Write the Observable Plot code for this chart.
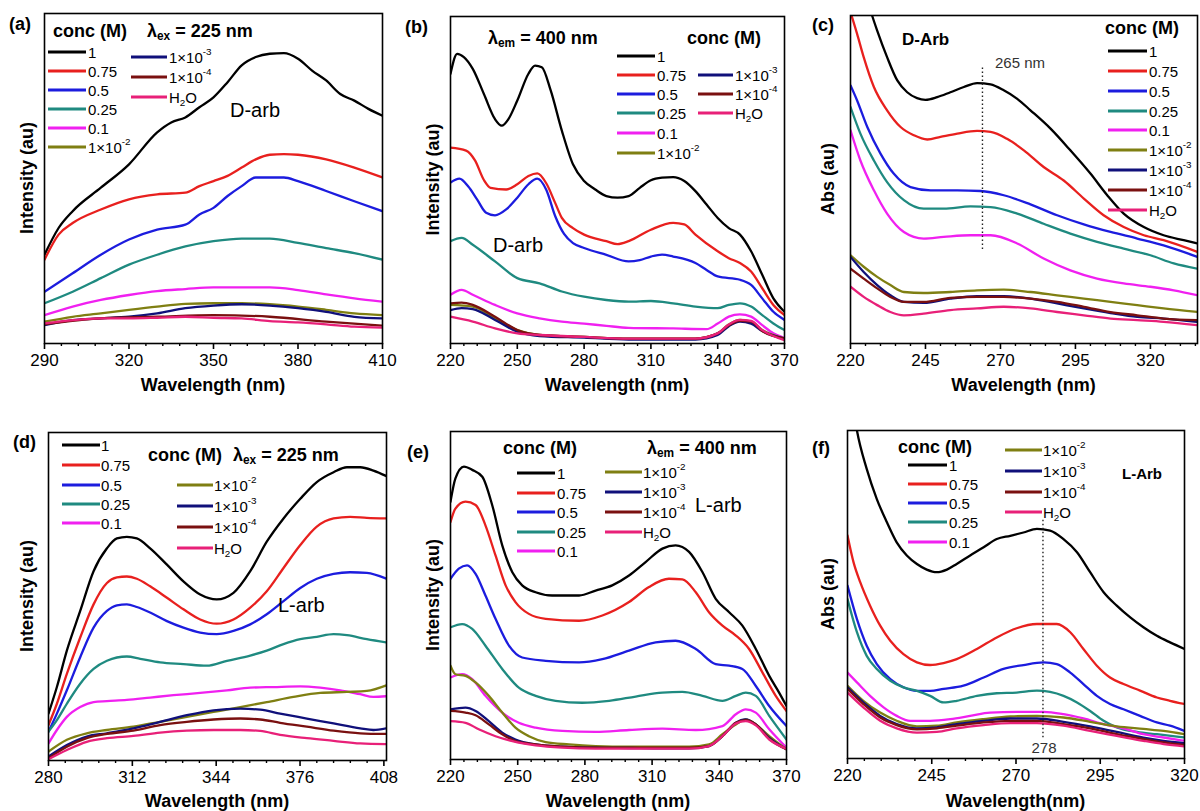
<!DOCTYPE html>
<html>
<head>
<meta charset="utf-8">
<script src="https://cdn.jsdelivr.net/npm/d3@7"></script>
<script src="https://cdn.jsdelivr.net/npm/@observablehq/plot@0.6"></script>
<style>
  body { margin: 0; background: #fff; }
  #root { position: relative; width: 1200px; height: 811px; overflow: hidden; font-family: Arial, "Liberation Sans", sans-serif; }
  .panel { position: absolute; }
  .panel svg { overflow: visible; }
</style>
</head>
<body>
<div id="root"></div>
<script>
// ---------- series labels & colours ----------
const concLabels = ["1", "0.75", "0.5", "0.25", "0.1", "1×10^-2", "1×10^-3", "1×10^-4", "H_2O"];
const seriesColors = ["#000000", "#e8201e", "#1c1cde", "#1f8a80", "#f020f0", "#7f7f12", "#10107a", "#7a1010", "#e82078"];

// ---------- panel (a): emission, D-arb, λex = 225 nm ----------
const a_1 = [[290,26.9],[295,35.0],[300,40.1],[310,47.2],[320,54.3],[330,64.0],[335,67.0],[340,68.5],[345,71.6],[350,74.6],[355,79.2],[360,84.3],[365,86.8],[370,87.8],[375,88.0],[380,86.3],[385,82.7],[390,79.7],[395,75.6],[400,73.6],[405,71.1],[410,69.0]];
const a_075 = [[290,25.4],[295,33.0],[300,36.5],[310,40.6],[320,43.7],[330,45.2],[340,45.7],[345,47.7],[350,49.2],[355,50.8],[360,53.3],[365,55.8],[370,57.2],[375,57.4],[380,57.2],[390,55.8],[400,53.3],[410,50.3]];
const a_05 = [[290,15.7],[300,21.3],[310,26.9],[320,31.5],[330,34.5],[340,36.0],[345,39.1],[350,41.1],[355,44.7],[360,47.7],[365,50.3],[370,50.3],[375,50.3],[380,49.2],[390,46.2],[400,43.1],[410,40.1]];
const a_025 = [[290,12.2],[300,15.7],[310,19.8],[320,23.9],[330,26.9],[340,29.4],[350,31.0],[360,31.8],[370,31.8],[380,30.5],[390,28.9],[400,27.4],[410,25.4]];
const a_01 = [[290,8.6],[300,11.2],[310,13.2],[320,14.7],[330,15.9],[340,16.5],[350,17.0],[360,17.0],[370,17.0],[380,16.2],[390,14.9],[400,13.7],[410,12.7]];
const a_1e2 = [[290,6.6],[300,8.1],[310,9.1],[320,10.2],[330,11.2],[340,12.0],[350,12.2],[360,12.2],[370,11.9],[380,11.2],[390,10.2],[400,9.1],[410,8.6]];
const a_1e3 = [[290,5.6],[300,7.1],[310,7.6],[320,8.1],[330,9.1],[340,10.7],[350,11.5],[360,11.9],[370,11.5],[380,10.7],[390,9.6],[400,8.1],[410,7.6]];
const a_1e4 = [[290,5.8],[310,7.6],[330,8.1],[350,8.6],[370,8.1],[390,6.6],[410,5.4]];
const a_h2o = [[290,6.1],[300,7.1],[310,7.6],[320,7.6],[330,7.8],[340,8.1],[350,7.8],[360,7.6],[370,6.8],[380,6.4],[390,5.8],[400,5.1],[410,4.8]];

// ---------- panel (b): excitation, D-arb, λem = 400 nm ----------
const b_1 = [[220,82.5],[223,88.6],[226,87.6],[230,84.0],[235,76.3],[240,68.6],[243,66.6],[246,68.6],[250,74.3],[255,82.5],[258,85.0],[261,84.5],[265,77.4],[270,65.1],[275,54.8],[280,49.7],[285,47.1],[290,45.1],[295,44.6],[300,45.1],[305,47.6],[310,49.9],[315,50.7],[320,50.9],[325,49.7],[330,46.6],[335,42.5],[340,38.4],[345,35.3],[350,33.3],[355,28.2],[360,21.0],[365,13.8],[370,9.7]];
const b_075 = [[220,59.9],[227,59.0],[231,56.0],[235,50.0],[238,47.6],[245,47.1],[250,48.7],[255,51.2],[259,52.0],[263,49.0],[267,43.0],[270,38.4],[275,35.3],[280,33.3],[290,31.3],[295,30.4],[300,31.3],[310,34.8],[320,36.9],[325,36.4],[330,33.3],[340,28.2],[345,26.1],[350,24.6],[355,22.0],[360,16.9],[365,11.8],[370,8.7]];
const b_05 = [[220,49.2],[224,50.4],[228,48.0],[232,44.0],[236,40.0],[240,39.2],[245,41.0],[250,44.6],[255,48.7],[259,50.4],[263,47.0],[267,39.0],[271,33.5],[275,30.7],[280,29.2],[290,27.1],[300,25.1],[305,25.5],[310,26.6],[315,27.2],[320,26.6],[330,24.6],[335,22.5],[340,20.5],[350,19.5],[355,17.9],[360,13.8],[365,9.7],[370,7.2]];
const b_025 = [[220,31.3],[225,32.3],[230,30.2],[240,25.1],[250,20.0],[260,18.4],[270,15.9],[280,14.3],[290,13.3],[300,12.8],[310,13.0],[320,12.3],[330,11.3],[340,10.8],[345,11.8],[350,12.3],[355,11.3],[360,8.7],[365,6.1],[370,4.1]];
const b_01 = [[220,14.9],[225,16.4],[230,14.9],[240,11.8],[250,9.2],[260,7.7],[270,6.7],[280,6.1],[290,5.4],[300,4.8],[320,4.6],[335,4.4],[340,6.1],[345,8.2],[350,8.9],[355,8.2],[360,5.6],[365,3.1],[370,1.7]];
const b_1e2 = [[220,11.8],[230,11.3],[240,7.7],[250,4.1],[260,2.6],[280,2.0],[300,1.5],[330,1.5],[340,3.1],[345,5.8],[350,7.2],[355,6.7],[360,4.1],[370,1.5]];
const b_1e3 = [[220,10.2],[225,10.8],[230,10.5],[240,7.2],[250,3.6],[260,2.3],[280,1.8],[300,1.2],[330,1.2],[340,2.6],[345,5.3],[350,6.7],[355,6.1],[360,3.8],[370,1.5]];
const b_1e4 = [[220,12.3],[225,12.5],[230,11.8],[240,8.2],[250,4.1],[260,2.6],[280,2.0],[300,1.5],[330,1.5],[340,3.1],[345,5.6],[350,6.9],[355,6.7],[360,3.8],[370,1.5]];
const b_h2o = [[220,8.2],[230,6.7],[240,4.6],[250,3.1],[260,2.6],[280,2.0],[300,1.5],[330,1.5],[340,3.1],[345,5.8],[350,7.2],[355,6.9],[360,4.1],[370,1.0]];

// ---------- panel (c): absorbance, D-Arb ----------
const c_1 = [[220,125],[223.5,112],[227.2,100],[228.9,95.4],[232.2,87.3],[235.6,80.2],[238.9,76.6],[242.2,74.8],[245,74.3],[248.9,75.1],[253.3,76.6],[257.8,78.2],[262.2,79.4],[266.7,79.0],[271.1,77.2],[275.6,74.6],[280,71.1],[286.7,65.5],[293.3,58.9],[300,51.8],[305.6,45.2],[311.1,39.6],[317.8,35.5],[324.4,33.0],[331.1,31.5],[335.7,30.5]];
const c_075 = [[220,101],[222.2,94.4],[224.4,87.3],[227.8,78.2],[232.2,71.1],[236.7,66.0],[241.1,63.5],[245.6,62.2],[250,63.0],[255.6,64.0],[262.2,64.8],[266.7,64.5],[272.2,62.4],[277.8,58.9],[284.4,53.8],[291.1,49.7],[297.8,44.2],[304.4,39.1],[311.1,35.5],[317.8,33.0],[324.4,31.5],[335.7,27.9]];
const c_05 = [[220,78.7],[222.2,74.1],[225.6,66.0],[230,57.9],[234.4,51.8],[240,47.7],[246.7,46.7],[255.6,46.7],[263.3,46.5],[271.1,45.2],[280,42.4],[288.9,39.1],[297.8,36.3],[306.7,34.0],[315.6,32.0],[324.4,29.9],[335.7,26.4]];
const c_025 = [[220,72.1],[223.3,64.0],[227.8,55.8],[232.2,49.2],[237.8,43.7],[244.4,41.1],[251.1,41.1],[260,41.8],[266.7,41.6],[275.6,39.6],[284.4,36.5],[293.3,33.5],[302.2,31.0],[311.1,28.9],[320,26.9],[327.8,24.4],[335.7,22.8]];
const c_01 = [[220,65.0],[223.3,55.8],[227.8,46.7],[232.2,39.6],[237.8,34.0],[244.4,32.0],[251.1,32.5],[260,33.0],[266.7,33.0],[275.6,30.5],[284.4,25.9],[293.3,22.3],[302.2,19.8],[311.1,18.3],[320,17.3],[327.8,16.2],[335.7,14.7]];
const c_1e2 = [[220,26.9],[224.4,23.4],[228.9,20.3],[233.3,17.8],[237.8,15.7],[244.4,15.4],[253.3,15.7],[262.2,16.2],[271.1,16.4],[280,15.7],[288.9,14.7],[297.8,13.7],[306.7,12.7],[315.6,11.7],[324.4,10.7],[335.7,9.6]];
const c_1e3 = [[220,26.4],[224.4,21.8],[228.9,17.8],[233.3,14.7],[237.8,12.7],[244.4,12.4],[253.3,13.7],[262.2,14.4],[271.1,14.4],[280,13.7],[288.9,12.2],[297.8,10.7],[306.7,9.3],[315.6,8.1],[324.4,7.6],[335.7,6.6]];
const c_1e4 = [[220,22.8],[224.4,19.8],[228.9,16.8],[233.3,14.2],[237.8,12.7],[244.4,12.7],[253.3,13.9],[262.2,14.2],[271.1,14.2],[280,13.7],[288.9,12.7],[297.8,11.2],[306.7,9.6],[315.6,8.6],[324.4,7.6],[335.7,7.1]];
const c_h2o = [[220,17.3],[224.4,14.2],[228.9,11.7],[233.3,9.6],[237.8,8.6],[244.4,9.1],[253.3,10.2],[262.2,10.7],[271.1,11.2],[280,10.7],[288.9,9.6],[297.8,8.6],[306.7,7.6],[315.6,7.1],[324.4,6.6],[335.7,5.6]];

// ---------- panel (d): emission, L-arb, λex = 225 nm ----------
const d_1 = [[280,14.3],[283.2,22.4],[287,33.5],[292.1,45.6],[297.2,57.7],[302.3,64.7],[306.1,67.7],[309.9,68.2],[313.7,67.7],[318.8,64.7],[325.2,59.7],[331.5,54.6],[337.9,50.6],[344.2,49.1],[350.6,51.1],[357,57.7],[363.3,66.7],[369.7,73.8],[376.1,79.8],[382.4,84.9],[388.8,87.9],[393.9,89.4],[399,89.4],[404,88.4],[409,86.7]];
const d_075 = [[280,10.8],[283.2,17.3],[287,26.4],[292.1,37.5],[297.2,47.6],[302.3,54.1],[306.1,55.8],[309.9,56.1],[313.7,55.4],[318.8,53.1],[325.2,49.6],[331.5,46.1],[337.9,43.0],[344.2,41.7],[350.6,43.0],[357,46.6],[363.3,51.6],[369.7,58.7],[376.1,65.7],[382.4,71.3],[388.8,73.8],[395.1,74.3],[401.5,74.0],[409,73.8]];
const d_05 = [[280,8.8],[283.2,14.3],[287,21.4],[292.1,31.5],[297.2,40.5],[302.3,45.6],[306.1,47.3],[309.9,47.6],[313.7,46.8],[318.8,45.1],[325.2,42.5],[331.5,40.5],[337.9,39.0],[344.2,38.5],[350.6,39.5],[357,41.5],[363.3,44.6],[369.7,48.6],[376.1,52.6],[382.4,55.4],[388.8,56.9],[395.1,57.4],[401.5,57.2],[409,55.4]];
const d_025 = [[280,8.8],[283.2,12.3],[287,17.3],[292.1,23.4],[297.2,27.9],[302.3,30.4],[309.9,31.7],[315,31.0],[322.6,29.9],[331.5,29.4],[340.4,28.9],[348.1,30.4],[357,32.0],[363.3,33.5],[369.7,35.5],[376.1,37.0],[382.4,37.7],[388.8,38.5],[393.9,38.2],[401.5,37.0],[409,36.0]];
const d_01 = [[280,5.2],[283.2,9.3],[287,13.3],[292.1,16.3],[297.2,17.8],[302.3,18.1],[309.9,18.5],[318.8,19.2],[327.7,19.9],[337.9,20.6],[348.1,21.4],[357,22.2],[365.9,22.4],[376.1,22.6],[383.7,22.2],[391.3,21.4],[399,20.2],[404,19.4],[409,19.6]];
const d_1e2 = [[280,2.7],[287,6.3],[294.6,8.3],[302.3,9.3],[312.4,10.3],[322.6,11.8],[332.8,13.3],[343,14.8],[353.2,16.3],[363.3,17.8],[373.5,19.4],[383.7,20.6],[393.9,20.9],[401.5,21.2],[409,22.9]];
const d_1e3 = [[280,1.2],[287,4.7],[294.6,7.3],[302.3,8.3],[312.4,9.8],[322.6,11.8],[332.8,13.8],[343,15.3],[353.2,15.8],[360.8,15.5],[368.4,14.3],[378.6,12.8],[388.8,11.3],[399,9.8],[404,9.3],[409,9.8]];
const d_1e4 = [[280,0.7],[287,4.2],[294.6,6.8],[302.3,8.1],[312.4,9.1],[322.6,10.8],[332.8,11.8],[343,12.5],[353.2,12.8],[360.8,12.5],[368.4,11.5],[378.6,10.3],[388.8,9.1],[399,8.3],[409,8.1]];
const d_h2o = [[280,0.4],[287,3.2],[294.6,5.7],[302.3,6.8],[312.4,7.5],[322.6,8.5],[332.8,9.1],[343,9.3],[353.2,9.3],[360.8,9.0],[368.4,7.8],[378.6,6.8],[388.8,6.0],[399,5.2],[409,5.0]];

// ---------- panel (e): excitation, L-arb, λem = 400 nm ----------
const e_1 = [[220,78.6],[222.2,85.7],[226,89.3],[229.7,88.3],[234.2,86.2],[238.6,77.6],[243.1,65.3],[247.6,57.1],[252,53.1],[258,51.0],[265.4,50.0],[277.4,50.0],[284.8,51.5],[292.2,53.1],[299.7,56.1],[307.1,60.2],[314.6,64.3],[320.5,65.3],[326.5,63.3],[332.5,57.1],[338.4,49.0],[344.4,44.9],[350.3,40.8],[356.3,33.7],[362.3,25.5],[366.7,20.4],[370,16.3]];
const e_075 = [[220,72.4],[222.2,76.5],[226.7,78.6],[231.2,77.6],[235.6,71.4],[240.1,62.2],[244.6,53.1],[249,48.0],[255,44.4],[262.5,42.9],[277.4,42.3],[287.8,43.9],[299.7,48.0],[308.6,52.6],[317.5,55.1],[323.5,54.9],[329.5,51.0],[335.4,44.9],[341.4,40.8],[347.4,37.8],[353.3,33.7],[359.3,26.5],[365.2,19.4],[370,14.8]];
const e_05 = [[220,55.1],[223.7,58.2],[227.4,59.2],[231.2,56.6],[235.6,50.0],[240.1,42.9],[246.1,34.7],[252,31.1],[262.5,30.1],[277.4,29.6],[287.8,30.6],[299.7,33.2],[311.6,35.7],[320.5,36.2],[329.5,33.7],[338.4,29.1],[344.4,28.6],[350.3,27.6],[356.3,22.4],[362.3,16.3],[370,10.2]];
const e_025 = [[220,40.3],[225.2,41.3],[229.7,39.8],[235.6,34.7],[243.1,27.6],[250.5,21.9],[258,19.4],[266.9,17.9],[278.8,17.3],[290.8,17.9],[302.7,19.2],[314.6,20.4],[323.5,20.6],[332.5,19.4],[341.4,17.9],[347.4,19.4],[351.8,20.4],[356.3,19.4],[362.3,13.3],[370,6.1]];
const e_01 = [[220,25.0],[225.2,26.0],[229.7,24.5],[235.6,19.4],[243.1,14.3],[250.5,11.2],[258,9.7],[269.9,8.7],[284.8,8.4],[299.7,9.0],[314.6,9.4],[329.5,9.0],[341.4,10.2],[347.4,13.8],[351.8,15.3],[356.3,14.3],[362.3,9.2],[370,3.6]];
const e_1e2 = [[220,28.6],[222.2,26.0],[226.7,25.5],[231.2,23.5],[237.1,19.4],[243.1,14.3],[249,9.7],[255,7.1],[262.5,5.3],[272.9,4.6],[284.8,4.1],[299.7,3.9],[314.6,3.9],[326.5,3.9],[335.4,4.6],[341.4,7.7],[347.4,10.7],[351.8,12.2],[356.3,10.7],[362.3,7.1],[370,3.1]];
const e_1e3 = [[220,15.3],[226.7,15.8],[231.2,14.8],[237.1,11.7],[243.1,8.2],[249,6.1],[258,4.6],[269.9,3.9],[284.8,3.6],[299.7,3.5],[314.6,3.4],[326.5,3.4],[335.4,4.1],[341.4,7.1],[347.4,11.2],[351.8,12.2],[356.3,10.7],[362.3,6.6],[370,3.1]];
const e_1e4 = [[220,14.8],[226.7,14.3],[231.2,13.5],[237.1,10.7],[243.1,7.7],[249,5.6],[258,4.6],[269.9,3.9],[284.8,3.6],[299.7,3.6],[314.6,3.6],[326.5,3.6],[335.4,4.1],[341.4,7.1],[347.4,11.2],[351.8,12.0],[356.3,10.7],[362.3,6.3],[370,3.1]];
const e_h2o = [[220,11.7],[226.7,11.2],[232.6,9.2],[240.1,7.1],[247.6,5.6],[258,4.3],[269.9,3.6],[284.8,3.3],[299.7,3.3],[314.6,3.3],[326.5,3.3],[335.4,4.1],[341.4,7.1],[347.4,11.0],[351.8,11.7],[356.3,10.4],[362.3,6.1],[370,3.3]];

// ---------- panel (f): absorbance, L-Arb ----------
const f_1 = [[220,120],[222.8,100],[225.7,88.3],[228.7,79.1],[231.7,72.0],[234.6,65.9],[237.6,61.9],[240.6,59.3],[243.5,57.6],[246.5,56.8],[249.5,57.6],[252.4,59.3],[256.4,61.9],[260.4,64.4],[264.3,66.9],[268.3,67.9],[272.2,68.9],[276.2,70.0],[280.1,69.5],[284.1,66.9],[288.1,62.9],[292,56.8],[296,50.7],[299.9,46.6],[303.9,43.0],[307.8,40.0],[311.8,37.4],[315.7,35.4],[320,33.4]];
const f_075 = [[220,68.0],[221.8,59.8],[223.8,53.7],[226.7,46.6],[229.7,40.5],[232.7,35.9],[236.6,31.8],[240.6,29.3],[244.5,28.5],[248.5,29.1],[252.4,30.3],[258.4,33.4],[264.3,36.9],[270.2,39.7],[276.2,41.0],[282.1,41.0],[286.1,38.5],[290,33.4],[294,28.3],[297.9,24.7],[301.9,22.7],[306.8,20.7],[311.8,18.6],[315.7,17.6],[320,16.6]];
const f_05 = [[220,52.7],[222.8,42.5],[225.7,34.4],[228.7,28.8],[232.7,24.2],[236.6,21.7],[240.6,20.6],[244.5,20.6],[248.5,21.2],[254.4,22.2],[260.4,24.7],[266.3,27.3],[272.2,28.5],[278.2,29.3],[282.1,28.8],[286.1,26.2],[290,22.7],[294,19.1],[297.9,16.6],[301.9,15.0],[306.8,13.0],[311.8,11.0],[315.7,10.0],[320,8.4]];
const f_025 = [[220,48.6],[222.8,38.5],[225.7,31.3],[228.7,27.3],[232.7,23.7],[236.6,21.7],[240.6,20.6],[244.5,19.1],[248.5,17.1],[252.4,17.6],[258.4,19.1],[264.3,19.9],[270.2,20.1],[276.2,20.7],[280.1,20.3],[284.1,19.1],[288.1,17.1],[292,14.5],[296,11.5],[299.9,9.5],[305.9,8.1],[311.8,7.4],[320,6.4]];
const f_01 = [[220,26.2],[222.8,23.2],[226.7,19.1],[230.7,15.6],[234.6,13.0],[238.6,11.5],[244.5,11.5],[250.5,12.0],[256.4,13.0],[262.3,14.0],[270.2,14.2],[278.2,14.2],[284.1,13.5],[290,12.2],[296,10.5],[301.9,9.2],[307.8,7.4],[313.8,6.4],[320,5.4]];
const f_1e2 = [[220,22.2],[224.7,17.6],[229.7,14.0],[234.6,11.5],[240.6,9.8],[246.5,10.0],[252.4,11.0],[260.4,12.0],[268.3,12.8],[276.2,13.0],[284.1,12.5],[292,11.2],[299.9,9.8],[307.8,9.0],[313.8,8.4],[320,7.4]];
const f_1e3 = [[220,21.7],[224.7,17.1],[229.7,13.0],[234.6,10.5],[240.6,9.2],[246.5,9.5],[252.4,10.5],[260.4,11.5],[268.3,12.2],[276.2,12.2],[284.1,11.2],[292,9.8],[299.9,8.1],[307.8,6.4],[313.8,5.4],[320,4.7]];
const f_1e4 = [[220,21.2],[224.7,16.6],[229.7,12.5],[234.6,10.2],[240.6,8.9],[246.5,9.2],[252.4,10.0],[260.4,11.0],[268.3,11.5],[276.2,11.5],[284.1,10.5],[292,9.2],[299.9,7.4],[307.8,5.9],[313.8,4.9],[320,4.1]];
const f_h2o = [[220,20.1],[224.7,15.6],[229.7,11.5],[234.6,9.2],[240.6,7.9],[246.5,8.1],[252.4,9.2],[260.4,10.2],[268.3,10.8],[276.2,10.8],[284.1,10.0],[292,8.4],[299.9,6.9],[307.8,5.4],[313.8,4.4],[320,3.7]];

// ---------- axis tick values ----------
const ticksA = [290, 320, 350, 380, 410];
const ticksB = [220, 250, 280, 310, 340, 370];
const ticksC = [220, 245, 270, 295, 320];
const ticksD = [280, 312, 344, 376, 408];
const ticksE = [220, 250, 280, 310, 340, 370];
const ticksF = [220, 245, 270, 295, 320];

// ---------- panel layouts ----------
const FONT = 'Arial, "Liberation Sans", sans-serif';
const panels = [
  { tag: "(a)", box: [0, 0, 400, 405], frame: [44, 382, 13, 343], domain: [290, 410], ticks: ticksA,
    series: [a_1, a_075, a_05, a_025, a_01, a_1e2, a_1e3, a_1e4, a_h2o],
    yTitle: "Intensity (au)", yTitleX: 27, xTitle: "Wavelength (nm)", xTitleY: 385, tagPos: [9, 24],
    texts: [
      { x: 53, y: 31, t: "conc (M)", s: 18, w: "bold" },
      { x: 147, y: 31, t: "λ_ex = 225 nm", s: 18, w: "bold" },
      { x: 230, y: 110, t: "D-arb", s: 20 }
    ],
    legend: [
      { x1: 48, x2: 86, tx: 88, ys: [52, 71, 90, 109, 128, 147], keys: [0, 1, 2, 3, 4, 5] },
      { x1: 131, x2: 167, tx: 169, ys: [57, 77, 97], keys: [6, 7, 8] }
    ] },
  { tag: "(b)", box: [400, 0, 400, 405], frame: [450, 784, 16, 343], domain: [220, 370], ticks: ticksB,
    series: [b_1, b_075, b_05, b_025, b_01, b_1e2, b_1e3, b_1e4, b_h2o],
    yTitle: "Intensity (au)", yTitleX: 433, xTitle: "Wavelength (nm)", xTitleY: 385, tagPos: [405, 27],
    texts: [
      { x: 488, y: 38, t: "λ_em = 400 nm", s: 18, w: "bold" },
      { x: 687, y: 38, t: "conc (M)", s: 18, w: "bold" },
      { x: 493, y: 245, t: "D-arb", s: 20 }
    ],
    legend: [
      { x1: 617, x2: 655, tx: 657, ys: [56, 75, 94, 113, 133, 153], keys: [0, 1, 2, 3, 4, 5] },
      { x1: 698, x2: 733, tx: 735, ys: [75, 94, 113], keys: [6, 7, 8] }
    ] },
  { tag: "(c)", box: [800, 0, 400, 405], frame: [850, 1197, 15, 343], domain: [220, 335.7], ticks: ticksC,
    series: [c_1, c_075, c_05, c_025, c_01, c_1e2, c_1e3, c_1e4, c_h2o],
    yTitle: "Abs (au)", yTitleX: 828, xTitle: "Wavelength (nm)", xTitleY: 385, tagPos: [812, 25],
    rule: { x: 264, y1: 84, y2: 28.4 },
    texts: [
      { x: 902, y: 39, t: "D-Arb", s: 17, w: "bold" },
      { x: 995, y: 62, t: "265 nm", s: 15, fill: "#333" },
      { x: 1105, y: 28, t: "conc (M)", s: 18, w: "bold" }
    ],
    legend: [
      { x1: 1108, x2: 1147, tx: 1149, ys: [51, 71, 91, 111, 130, 150, 170, 190, 210], keys: [0, 1, 2, 3, 4, 5, 6, 7, 8] }
    ] },
  { tag: "(d)", box: [0, 405, 400, 406], frame: [48, 386, 432, 760], domain: [280, 409], ticks: ticksD,
    series: [d_1, d_075, d_05, d_025, d_01, d_1e2, d_1e3, d_1e4, d_h2o],
    yTitle: "Intensity (au)", yTitleX: 27, xTitle: "Wavelength (nm)", xTitleY: 801, tagPos: [13, 442],
    texts: [
      { x: 148, y: 455, t: "conc (M)", s: 18, w: "bold" },
      { x: 233, y: 455, t: "λ_ex = 225 nm", s: 18, w: "bold" },
      { x: 278, y: 605, t: "L-arb", s: 20 }
    ],
    legend: [
      { x1: 62, x2: 100, tx: 101, ys: [445, 465, 485, 504, 523], keys: [0, 1, 2, 3, 4] },
      { x1: 177, x2: 213, tx: 214, ys: [485, 506, 527, 548], keys: [5, 6, 7, 8] }
    ] },
  { tag: "(e)", box: [400, 405, 400, 406], frame: [450, 786, 431, 759], domain: [220, 370], ticks: ticksE,
    series: [e_1, e_075, e_05, e_025, e_01, e_1e2, e_1e3, e_1e4, e_h2o],
    yTitle: "Intensity (au)", yTitleX: 433, xTitle: "Wavelength (nm)", xTitleY: 801, tagPos: [407, 452],
    texts: [
      { x: 503, y: 448, t: "conc (M)", s: 18, w: "bold" },
      { x: 647, y: 448, t: "λ_em = 400 nm", s: 18, w: "bold" },
      { x: 695, y: 505, t: "L-arb", s: 20 }
    ],
    legend: [
      { x1: 517, x2: 555, tx: 557, ys: [473, 493, 512, 532, 551], keys: [0, 1, 2, 3, 4] },
      { x1: 605, x2: 642, tx: 643, ys: [472, 492, 512, 532], keys: [5, 6, 7, 8] }
    ] },
  { tag: "(f)", box: [800, 405, 400, 406], frame: [847, 1184, 430, 758], domain: [220, 320], ticks: ticksF,
    series: [f_1, f_075, f_05, f_025, f_01, f_1e2, f_1e3, f_1e4, f_h2o],
    yTitle: "Abs (au)", yTitleX: 828, xTitle: "Wavelength(nm)", xTitleY: 801, tagPos: [812, 448],
    rule: { x: 278, y1: 72.6, y2: 6.1 },
    texts: [
      { x: 898, y: 447, t: "conc (M)", s: 18, w: "bold" },
      { x: 1122, y: 473, t: "L-Arb", s: 15, w: "bold" },
      { x: 1044, y: 747, t: "278", s: 15, fill: "#333", a: "middle" }
    ],
    legend: [
      { x1: 908, x2: 947, tx: 949, ys: [465, 484, 503, 522, 542], keys: [0, 1, 2, 3, 4] },
      { x1: 1005, x2: 1042, tx: 1043, ys: [450, 471, 492, 512], keys: [5, 6, 7, 8] }
    ] }
];

// rich text: _sub and ^sup
function rich(sel, str, size) {
  const re = /_([0-9]|[a-z]+)|\^(-?\d+)/g;
  let last = 0, shift = 0, m;
  const add = (t, dy, fs) => {
    const ts = sel.append("tspan").text(t);
    if (dy) ts.attr("dy", dy);
    if (fs) ts.attr("font-size", fs);
  };
  while ((m = re.exec(str))) {
    if (m.index > last) { add(str.slice(last, m.index), shift ? -shift : null); shift = 0; }
    if (m[1] !== undefined) { add(m[1], size * 0.3, size * 0.66); shift = size * 0.3; }
    else { add(m[2], -size * 0.38, size * 0.66); shift = -size * 0.38; }
    last = re.lastIndex;
  }
  if (last < str.length) add(str.slice(last), shift ? -shift : null);
}

const root = document.getElementById("root");

for (const p of panels) {
  const [bx, by, bw, bh] = p.box;
  const [fl, fr, ft, fb] = p.frame;
  const rows = p.series.flatMap((s, k) => s.map(([w, v]) => ({ w, v, k })));
  const step = (p.ticks[1] - p.ticks[0]) / 5;
  const minor = d3.range(p.ticks[0], p.domain[1] + 1e-9, step)
    .filter(t => !p.ticks.some(M => Math.abs(M - t) < 1e-6));

  const marks = [
    Plot.line(rows, { x: "w", y: "v", z: "k", stroke: d => seriesColors[d.k], strokeWidth: 2.3, curve: "monotone-x", clip: true })
  ];
  if (p.rule) {
    marks.push(Plot.ruleX([p.rule.x], { y1: p.rule.y1, y2: p.rule.y2, stroke: "#222", strokeWidth: 1.4, strokeDasharray: "1.5,2.5" }));
  }
  marks.push(Plot.frame({ stroke: "#000", strokeWidth: 1.6 }));
  marks.push(Plot.axisX(minor, { tickSize: 3, tickFormat: () => "", strokeWidth: 1.4, label: null }));
  marks.push(Plot.axisX(p.ticks, { tickSize: 6, tickPadding: 4, fontSize: 17, strokeWidth: 1.6, label: null }));

  const svg = Plot.plot({
    width: bw, height: bh,
    marginLeft: fl - bx, marginRight: bx + bw - fr, marginTop: ft - by, marginBottom: by + bh - fb,
    x: { domain: p.domain, label: null },
    y: { domain: [0, 100], axis: null },
    style: { fontFamily: FONT, color: "#000", background: "transparent", overflow: "visible" },
    marks
  });

  const div = document.createElement("div");
  div.className = "panel";
  div.style.left = bx + "px";
  div.style.top = by + "px";
  div.appendChild(svg);
  root.appendChild(div);

  const g = d3.select(svg).append("g").attr("transform", `translate(${-bx},${-by})`)
    .attr("font-family", FONT).attr("fill", "#000").attr("text-anchor", "start");

  // panel tag
  g.append("text").attr("x", p.tagPos[0]).attr("y", p.tagPos[1]).attr("dominant-baseline", "central")
    .attr("text-anchor", "start").attr("font-size", 18).attr("font-weight", "bold").text(p.tag);

  // axis titles
  g.append("text").attr("x", (fl + fr) / 2).attr("y", p.xTitleY).attr("text-anchor", "middle")
    .attr("dominant-baseline", "central").attr("font-size", 18).attr("font-weight", "bold").text(p.xTitle);
  g.append("text").attr("transform", `translate(${p.yTitleX},${(ft + fb) / 2}) rotate(-90)`)
    .attr("text-anchor", "middle").attr("dominant-baseline", "central")
    .attr("font-size", 18).attr("font-weight", "bold").text(p.yTitle);

  // annotations
  for (const t of p.texts) {
    const el = g.append("text").attr("x", t.x).attr("y", t.y).attr("dominant-baseline", "central")
      .attr("font-size", t.s).attr("font-weight", t.w || "normal").attr("text-anchor", t.a || "start")
      .attr("fill", t.fill || "#000");
    rich(el, t.t, t.s);
  }

  // legend
  for (const col of p.legend) {
    col.keys.forEach((k, i) => {
      const y = col.ys[i];
      g.append("line").attr("x1", col.x1).attr("x2", col.x2).attr("y1", y).attr("y2", y)
        .attr("stroke", seriesColors[k]).attr("stroke-width", 3);
      const el = g.append("text").attr("x", col.tx).attr("y", y).attr("dominant-baseline", "central")
        .attr("text-anchor", "start").attr("font-size", 15);
      rich(el, concLabels[k], 15);
    });
  }
}
</script>
</body>
</html>
